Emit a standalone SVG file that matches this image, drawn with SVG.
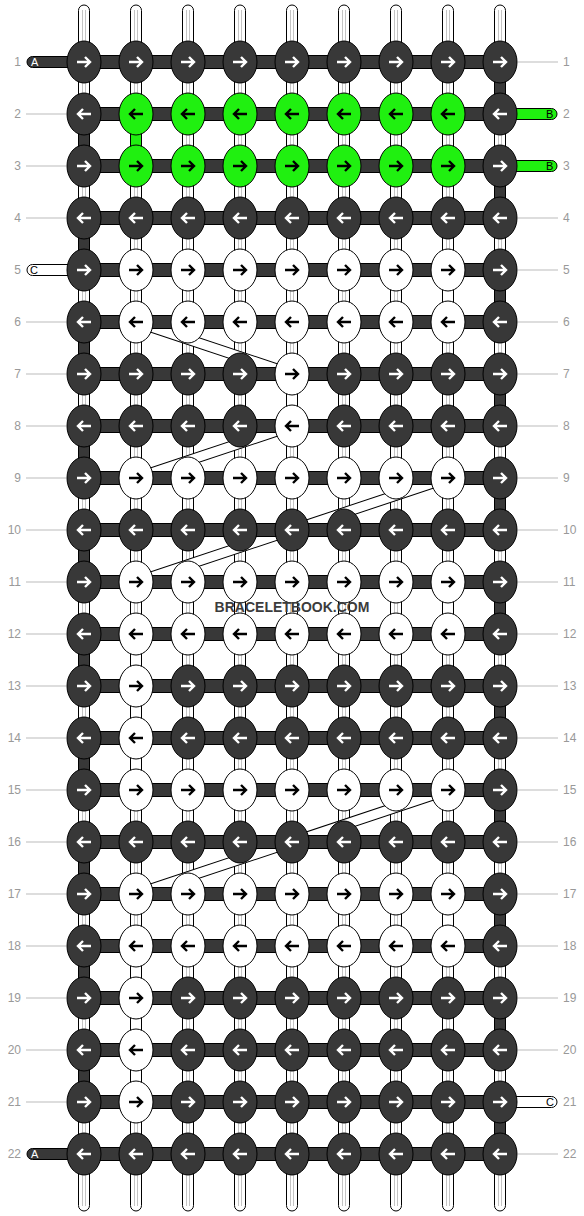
<svg xmlns="http://www.w3.org/2000/svg" xmlns:xlink="http://www.w3.org/1999/xlink" width="584" height="1216" viewBox="0 0 584 1216">
<style>
.st{fill:#fff;stroke:#000;stroke-width:1}
.sl{stroke:#c4c4c4;stroke-width:1}
.fd{fill:#383838;stroke:#000;stroke-width:1}
.fg{fill:#20f010;stroke:#000;stroke-width:1}
.fw{fill:#fff;stroke:#000;stroke-width:1}
.bo{stroke:#000;stroke-width:11}
.bi{stroke:#fff;stroke-width:9}
.kd{fill:#383838;stroke:#000;stroke-width:1}
.kg{fill:#20f010;stroke:#000;stroke-width:1}
.kw{fill:#fff;stroke:#000;stroke-width:1}
.aw{fill:none;stroke:#fff;stroke-width:2.4}
.ab{fill:none;stroke:#000;stroke-width:2.4}
.num{font-family:"Liberation Sans",Arial,sans-serif;font-size:12px;fill:#999}
.nl{stroke:#bbb;stroke-width:1}
.tl{font-family:"Liberation Sans",Arial,sans-serif;font-size:11px}
.wm{font-family:"Liberation Sans",Arial,sans-serif;font-size:14px;font-weight:bold;fill:#3c3c3c}
</style>
<defs>
<g id="dR"><ellipse class="kd" rx="17" ry="21"/><path class="aw" d="M-7,0H6M1,-5L6,0L1,5"/></g>
<g id="dL"><ellipse class="kd" rx="17" ry="21"/><path class="aw" d="M7,0H-6M-1,-5L-6,0L-1,5"/></g>
<g id="gR"><ellipse class="kg" rx="17" ry="21"/><path class="ab" d="M-7,0H6M1,-5L6,0L1,5"/></g>
<g id="gL"><ellipse class="kg" rx="17" ry="21"/><path class="ab" d="M7,0H-6M-1,-5L-6,0L-1,5"/></g>
<g id="wR"><ellipse class="kw" rx="17" ry="21"/><path class="ab" d="M-7,0H6M1,-5L6,0L1,5"/></g>
<g id="wL"><ellipse class="kw" rx="17" ry="21"/><path class="ab" d="M7,0H-6M-1,-5L-6,0L-1,5"/></g>
<g id="strand"><rect class="st" x="-5.5" y="5" width="11" height="1206" rx="5.5"/><path class="sl" d="M-1.5,10V1206M1.5,10V1206"/></g>
</defs>
<rect width="584" height="1216" fill="#fff"/>
<g id="labels">
<path class="nl" d="M26,114H66M26,166H66M26,218H66M26,322H66M26,374H66M26,426H66M26,478H66M26,530H66M26,582H66M26,634H66M26,686H66M26,738H66M26,790H66M26,842H66M26,894H66M26,946H66M26,998H66M26,1050H66M26,1102H66"/>
<path class="nl" d="M518,62H558M518,218H558M518,270H558M518,322H558M518,374H558M518,426H558M518,478H558M518,530H558M518,582H558M518,634H558M518,686H558M518,738H558M518,790H558M518,842H558M518,894H558M518,946H558M518,998H558M518,1050H558M518,1154H558"/>
<g class="num" text-anchor="end">
<text x="21" y="66">1</text><text x="21" y="118">2</text><text x="21" y="170">3</text><text x="21" y="222">4</text><text x="21" y="274">5</text><text x="21" y="326">6</text><text x="21" y="378">7</text><text x="21" y="430">8</text><text x="21" y="482">9</text><text x="21" y="534">10</text><text x="21" y="586">11</text><text x="21" y="638">12</text><text x="21" y="690">13</text><text x="21" y="742">14</text><text x="21" y="794">15</text><text x="21" y="846">16</text><text x="21" y="898">17</text><text x="21" y="950">18</text><text x="21" y="1002">19</text><text x="21" y="1054">20</text><text x="21" y="1106">21</text><text x="21" y="1158">22</text>
</g>
<g class="num">
<text x="563" y="66">1</text><text x="563" y="118">2</text><text x="563" y="170">3</text><text x="563" y="222">4</text><text x="563" y="274">5</text><text x="563" y="326">6</text><text x="563" y="378">7</text><text x="563" y="430">8</text><text x="563" y="482">9</text><text x="563" y="534">10</text><text x="563" y="586">11</text><text x="563" y="638">12</text><text x="563" y="690">13</text><text x="563" y="742">14</text><text x="563" y="794">15</text><text x="563" y="846">16</text><text x="563" y="898">17</text><text x="563" y="950">18</text><text x="563" y="1002">19</text><text x="563" y="1054">20</text><text x="563" y="1106">21</text><text x="563" y="1158">22</text>
</g>
</g>
<g id="connectors">
<use href="#strand" x="84" y="0"/><use href="#strand" x="136" y="0"/><use href="#strand" x="188" y="0"/><use href="#strand" x="240" y="0"/><use href="#strand" x="292" y="0"/><use href="#strand" x="344" y="0"/><use href="#strand" x="396" y="0"/><use href="#strand" x="448" y="0"/><use href="#strand" x="500" y="0"/>
<g class="fd">
<rect x="494.5" y="78" width="11" height="20"/><rect x="494.5" y="182" width="11" height="20"/><rect x="494.5" y="286" width="11" height="20"/><rect x="494.5" y="390" width="11" height="20"/><rect x="494.5" y="494" width="11" height="20"/><rect x="494.5" y="598" width="11" height="20"/><rect x="494.5" y="702" width="11" height="20"/><rect x="494.5" y="806" width="11" height="20"/><rect x="494.5" y="910" width="11" height="20"/><rect x="494.5" y="1014" width="11" height="20"/><rect x="494.5" y="1118" width="11" height="20"/>
<rect x="78.5" y="130" width="11" height="20"/><rect x="78.5" y="234" width="11" height="20"/><rect x="78.5" y="338" width="11" height="20"/><rect x="78.5" y="442" width="11" height="20"/><rect x="78.5" y="546" width="11" height="20"/><rect x="78.5" y="650" width="11" height="20"/><rect x="78.5" y="754" width="11" height="20"/><rect x="78.5" y="858" width="11" height="20"/><rect x="78.5" y="962" width="11" height="20"/><rect x="78.5" y="1066" width="11" height="20"/>
</g>
<rect class="fg" x="130.5" y="130" width="11" height="20"/>
<g class="fw">
<rect x="442.5" y="286" width="11" height="20"/><rect x="286.5" y="390" width="11" height="20"/><rect x="442.5" y="598" width="11" height="20"/><rect x="130.5" y="650" width="11" height="20"/><rect x="130.5" y="702" width="11" height="20"/><rect x="130.5" y="754" width="11" height="20"/><rect x="442.5" y="910" width="11" height="20"/><rect x="130.5" y="962" width="11" height="20"/><rect x="130.5" y="1014" width="11" height="20"/><rect x="130.5" y="1066" width="11" height="20"/>
</g>
<line class="bo" x1="136" y1="322" x2="292" y2="374"/><line class="bi" x1="136" y1="322" x2="292" y2="374"/>
<line class="bo" x1="292" y1="426" x2="136" y2="478"/><line class="bi" x1="292" y1="426" x2="136" y2="478"/>
<line class="bo" x1="448" y1="478" x2="136" y2="582"/><line class="bi" x1="448" y1="478" x2="136" y2="582"/>
<line class="bo" x1="448" y1="790" x2="136" y2="894"/><line class="bi" x1="448" y1="790" x2="136" y2="894"/>
<g class="fd">
<rect x="84" y="55.5" width="416" height="13"/><rect x="84" y="107.5" width="416" height="13"/><rect x="84" y="159.5" width="416" height="13"/><rect x="84" y="211.5" width="416" height="13"/><rect x="84" y="263.5" width="416" height="13"/><rect x="84" y="315.5" width="416" height="13"/><rect x="84" y="367.5" width="416" height="13"/><rect x="84" y="419.5" width="416" height="13"/><rect x="84" y="471.5" width="416" height="13"/><rect x="84" y="523.5" width="416" height="13"/><rect x="84" y="575.5" width="416" height="13"/><rect x="84" y="627.5" width="416" height="13"/><rect x="84" y="679.5" width="416" height="13"/><rect x="84" y="731.5" width="416" height="13"/><rect x="84" y="783.5" width="416" height="13"/><rect x="84" y="835.5" width="416" height="13"/><rect x="84" y="887.5" width="416" height="13"/><rect x="84" y="939.5" width="416" height="13"/><rect x="84" y="991.5" width="416" height="13"/><rect x="84" y="1043.5" width="416" height="13"/><rect x="84" y="1095.5" width="416" height="13"/><rect x="84" y="1147.5" width="416" height="13"/>
</g>
<g id="tails">
<rect class="fd" x="27" y="56.5" width="50" height="11" rx="5.5"/><text class="tl" x="31" y="66" fill="#fff">A</text>
<rect class="fd" x="27" y="1148.5" width="50" height="11" rx="5.5"/><text class="tl" x="31" y="1158" fill="#fff">A</text>
<rect class="fg" x="495" y="108.5" width="62" height="11" rx="5.5"/><text class="tl" x="546" y="118" fill="#000">B</text>
<rect class="fg" x="495" y="160.5" width="62" height="11" rx="5.5"/><text class="tl" x="546" y="170" fill="#000">B</text>
<rect class="fw" x="27" y="264.5" width="50" height="11" rx="5.5"/><text class="tl" x="30" y="274" fill="#000">C</text>
<rect class="fw" x="495" y="1096.5" width="62" height="11" rx="5.5"/><text class="tl" x="546" y="1106" fill="#000">C</text>
</g>
</g>
<g id="knots">
<g id="n1-1"><use href="#dR" x="84" y="62"/></g><g id="n1-2"><use href="#dR" x="136" y="62"/></g><g id="n1-3"><use href="#dR" x="188" y="62"/></g><g id="n1-4"><use href="#dR" x="240" y="62"/></g><g id="n1-5"><use href="#dR" x="292" y="62"/></g><g id="n1-6"><use href="#dR" x="344" y="62"/></g><g id="n1-7"><use href="#dR" x="396" y="62"/></g><g id="n1-8"><use href="#dR" x="448" y="62"/></g><g id="n1-9"><use href="#dR" x="500" y="62"/></g>
<g id="n2-1"><use href="#dL" x="84" y="114"/></g><g id="n2-2"><use href="#gL" x="136" y="114"/></g><g id="n2-3"><use href="#gL" x="188" y="114"/></g><g id="n2-4"><use href="#gL" x="240" y="114"/></g><g id="n2-5"><use href="#gL" x="292" y="114"/></g><g id="n2-6"><use href="#gL" x="344" y="114"/></g><g id="n2-7"><use href="#gL" x="396" y="114"/></g><g id="n2-8"><use href="#gL" x="448" y="114"/></g><g id="n2-9"><use href="#dL" x="500" y="114"/></g>
<g id="n3-1"><use href="#dR" x="84" y="166"/></g><g id="n3-2"><use href="#gR" x="136" y="166"/></g><g id="n3-3"><use href="#gR" x="188" y="166"/></g><g id="n3-4"><use href="#gR" x="240" y="166"/></g><g id="n3-5"><use href="#gR" x="292" y="166"/></g><g id="n3-6"><use href="#gR" x="344" y="166"/></g><g id="n3-7"><use href="#gR" x="396" y="166"/></g><g id="n3-8"><use href="#gR" x="448" y="166"/></g><g id="n3-9"><use href="#dR" x="500" y="166"/></g>
<g id="n4-1"><use href="#dL" x="84" y="218"/></g><g id="n4-2"><use href="#dL" x="136" y="218"/></g><g id="n4-3"><use href="#dL" x="188" y="218"/></g><g id="n4-4"><use href="#dL" x="240" y="218"/></g><g id="n4-5"><use href="#dL" x="292" y="218"/></g><g id="n4-6"><use href="#dL" x="344" y="218"/></g><g id="n4-7"><use href="#dL" x="396" y="218"/></g><g id="n4-8"><use href="#dL" x="448" y="218"/></g><g id="n4-9"><use href="#dL" x="500" y="218"/></g>
<g id="n5-1"><use href="#dR" x="84" y="270"/></g><g id="n5-2"><use href="#wR" x="136" y="270"/></g><g id="n5-3"><use href="#wR" x="188" y="270"/></g><g id="n5-4"><use href="#wR" x="240" y="270"/></g><g id="n5-5"><use href="#wR" x="292" y="270"/></g><g id="n5-6"><use href="#wR" x="344" y="270"/></g><g id="n5-7"><use href="#wR" x="396" y="270"/></g><g id="n5-8"><use href="#wR" x="448" y="270"/></g><g id="n5-9"><use href="#dR" x="500" y="270"/></g>
<g id="n6-1"><use href="#dL" x="84" y="322"/></g><g id="n6-2"><use href="#wL" x="136" y="322"/></g><g id="n6-3"><use href="#wL" x="188" y="322"/></g><g id="n6-4"><use href="#wL" x="240" y="322"/></g><g id="n6-5"><use href="#wL" x="292" y="322"/></g><g id="n6-6"><use href="#wL" x="344" y="322"/></g><g id="n6-7"><use href="#wL" x="396" y="322"/></g><g id="n6-8"><use href="#wL" x="448" y="322"/></g><g id="n6-9"><use href="#dL" x="500" y="322"/></g>
<g id="n7-1"><use href="#dR" x="84" y="374"/></g><g id="n7-2"><use href="#dR" x="136" y="374"/></g><g id="n7-3"><use href="#dR" x="188" y="374"/></g><g id="n7-4"><use href="#dR" x="240" y="374"/></g><g id="n7-5"><use href="#wR" x="292" y="374"/></g><g id="n7-6"><use href="#dR" x="344" y="374"/></g><g id="n7-7"><use href="#dR" x="396" y="374"/></g><g id="n7-8"><use href="#dR" x="448" y="374"/></g><g id="n7-9"><use href="#dR" x="500" y="374"/></g>
<g id="n8-1"><use href="#dL" x="84" y="426"/></g><g id="n8-2"><use href="#dL" x="136" y="426"/></g><g id="n8-3"><use href="#dL" x="188" y="426"/></g><g id="n8-4"><use href="#dL" x="240" y="426"/></g><g id="n8-5"><use href="#wL" x="292" y="426"/></g><g id="n8-6"><use href="#dL" x="344" y="426"/></g><g id="n8-7"><use href="#dL" x="396" y="426"/></g><g id="n8-8"><use href="#dL" x="448" y="426"/></g><g id="n8-9"><use href="#dL" x="500" y="426"/></g>
<g id="n9-1"><use href="#dR" x="84" y="478"/></g><g id="n9-2"><use href="#wR" x="136" y="478"/></g><g id="n9-3"><use href="#wR" x="188" y="478"/></g><g id="n9-4"><use href="#wR" x="240" y="478"/></g><g id="n9-5"><use href="#wR" x="292" y="478"/></g><g id="n9-6"><use href="#wR" x="344" y="478"/></g><g id="n9-7"><use href="#wR" x="396" y="478"/></g><g id="n9-8"><use href="#wR" x="448" y="478"/></g><g id="n9-9"><use href="#dR" x="500" y="478"/></g>
<g id="n10-1"><use href="#dL" x="84" y="530"/></g><g id="n10-2"><use href="#dL" x="136" y="530"/></g><g id="n10-3"><use href="#dL" x="188" y="530"/></g><g id="n10-4"><use href="#dL" x="240" y="530"/></g><g id="n10-5"><use href="#dL" x="292" y="530"/></g><g id="n10-6"><use href="#dL" x="344" y="530"/></g><g id="n10-7"><use href="#dL" x="396" y="530"/></g><g id="n10-8"><use href="#dL" x="448" y="530"/></g><g id="n10-9"><use href="#dL" x="500" y="530"/></g>
<g id="n11-1"><use href="#dR" x="84" y="582"/></g><g id="n11-2"><use href="#wR" x="136" y="582"/></g><g id="n11-3"><use href="#wR" x="188" y="582"/></g><g id="n11-4"><use href="#wR" x="240" y="582"/></g><g id="n11-5"><use href="#wR" x="292" y="582"/></g><g id="n11-6"><use href="#wR" x="344" y="582"/></g><g id="n11-7"><use href="#wR" x="396" y="582"/></g><g id="n11-8"><use href="#wR" x="448" y="582"/></g><g id="n11-9"><use href="#dR" x="500" y="582"/></g>
<g id="n12-1"><use href="#dL" x="84" y="634"/></g><g id="n12-2"><use href="#wL" x="136" y="634"/></g><g id="n12-3"><use href="#wL" x="188" y="634"/></g><g id="n12-4"><use href="#wL" x="240" y="634"/></g><g id="n12-5"><use href="#wL" x="292" y="634"/></g><g id="n12-6"><use href="#wL" x="344" y="634"/></g><g id="n12-7"><use href="#wL" x="396" y="634"/></g><g id="n12-8"><use href="#wL" x="448" y="634"/></g><g id="n12-9"><use href="#dL" x="500" y="634"/></g>
<g id="n13-1"><use href="#dR" x="84" y="686"/></g><g id="n13-2"><use href="#wR" x="136" y="686"/></g><g id="n13-3"><use href="#dR" x="188" y="686"/></g><g id="n13-4"><use href="#dR" x="240" y="686"/></g><g id="n13-5"><use href="#dR" x="292" y="686"/></g><g id="n13-6"><use href="#dR" x="344" y="686"/></g><g id="n13-7"><use href="#dR" x="396" y="686"/></g><g id="n13-8"><use href="#dR" x="448" y="686"/></g><g id="n13-9"><use href="#dR" x="500" y="686"/></g>
<g id="n14-1"><use href="#dL" x="84" y="738"/></g><g id="n14-2"><use href="#wL" x="136" y="738"/></g><g id="n14-3"><use href="#dL" x="188" y="738"/></g><g id="n14-4"><use href="#dL" x="240" y="738"/></g><g id="n14-5"><use href="#dL" x="292" y="738"/></g><g id="n14-6"><use href="#dL" x="344" y="738"/></g><g id="n14-7"><use href="#dL" x="396" y="738"/></g><g id="n14-8"><use href="#dL" x="448" y="738"/></g><g id="n14-9"><use href="#dL" x="500" y="738"/></g>
<g id="n15-1"><use href="#dR" x="84" y="790"/></g><g id="n15-2"><use href="#wR" x="136" y="790"/></g><g id="n15-3"><use href="#wR" x="188" y="790"/></g><g id="n15-4"><use href="#wR" x="240" y="790"/></g><g id="n15-5"><use href="#wR" x="292" y="790"/></g><g id="n15-6"><use href="#wR" x="344" y="790"/></g><g id="n15-7"><use href="#wR" x="396" y="790"/></g><g id="n15-8"><use href="#wR" x="448" y="790"/></g><g id="n15-9"><use href="#dR" x="500" y="790"/></g>
<g id="n16-1"><use href="#dL" x="84" y="842"/></g><g id="n16-2"><use href="#dL" x="136" y="842"/></g><g id="n16-3"><use href="#dL" x="188" y="842"/></g><g id="n16-4"><use href="#dL" x="240" y="842"/></g><g id="n16-5"><use href="#dL" x="292" y="842"/></g><g id="n16-6"><use href="#dL" x="344" y="842"/></g><g id="n16-7"><use href="#dL" x="396" y="842"/></g><g id="n16-8"><use href="#dL" x="448" y="842"/></g><g id="n16-9"><use href="#dL" x="500" y="842"/></g>
<g id="n17-1"><use href="#dR" x="84" y="894"/></g><g id="n17-2"><use href="#wR" x="136" y="894"/></g><g id="n17-3"><use href="#wR" x="188" y="894"/></g><g id="n17-4"><use href="#wR" x="240" y="894"/></g><g id="n17-5"><use href="#wR" x="292" y="894"/></g><g id="n17-6"><use href="#wR" x="344" y="894"/></g><g id="n17-7"><use href="#wR" x="396" y="894"/></g><g id="n17-8"><use href="#wR" x="448" y="894"/></g><g id="n17-9"><use href="#dR" x="500" y="894"/></g>
<g id="n18-1"><use href="#dL" x="84" y="946"/></g><g id="n18-2"><use href="#wL" x="136" y="946"/></g><g id="n18-3"><use href="#wL" x="188" y="946"/></g><g id="n18-4"><use href="#wL" x="240" y="946"/></g><g id="n18-5"><use href="#wL" x="292" y="946"/></g><g id="n18-6"><use href="#wL" x="344" y="946"/></g><g id="n18-7"><use href="#wL" x="396" y="946"/></g><g id="n18-8"><use href="#wL" x="448" y="946"/></g><g id="n18-9"><use href="#dL" x="500" y="946"/></g>
<g id="n19-1"><use href="#dR" x="84" y="998"/></g><g id="n19-2"><use href="#wR" x="136" y="998"/></g><g id="n19-3"><use href="#dR" x="188" y="998"/></g><g id="n19-4"><use href="#dR" x="240" y="998"/></g><g id="n19-5"><use href="#dR" x="292" y="998"/></g><g id="n19-6"><use href="#dR" x="344" y="998"/></g><g id="n19-7"><use href="#dR" x="396" y="998"/></g><g id="n19-8"><use href="#dR" x="448" y="998"/></g><g id="n19-9"><use href="#dR" x="500" y="998"/></g>
<g id="n20-1"><use href="#dL" x="84" y="1050"/></g><g id="n20-2"><use href="#wL" x="136" y="1050"/></g><g id="n20-3"><use href="#dL" x="188" y="1050"/></g><g id="n20-4"><use href="#dL" x="240" y="1050"/></g><g id="n20-5"><use href="#dL" x="292" y="1050"/></g><g id="n20-6"><use href="#dL" x="344" y="1050"/></g><g id="n20-7"><use href="#dL" x="396" y="1050"/></g><g id="n20-8"><use href="#dL" x="448" y="1050"/></g><g id="n20-9"><use href="#dL" x="500" y="1050"/></g>
<g id="n21-1"><use href="#dR" x="84" y="1102"/></g><g id="n21-2"><use href="#wR" x="136" y="1102"/></g><g id="n21-3"><use href="#dR" x="188" y="1102"/></g><g id="n21-4"><use href="#dR" x="240" y="1102"/></g><g id="n21-5"><use href="#dR" x="292" y="1102"/></g><g id="n21-6"><use href="#dR" x="344" y="1102"/></g><g id="n21-7"><use href="#dR" x="396" y="1102"/></g><g id="n21-8"><use href="#dR" x="448" y="1102"/></g><g id="n21-9"><use href="#dR" x="500" y="1102"/></g>
<g id="n22-1"><use href="#dL" x="84" y="1154"/></g><g id="n22-2"><use href="#dL" x="136" y="1154"/></g><g id="n22-3"><use href="#dL" x="188" y="1154"/></g><g id="n22-4"><use href="#dL" x="240" y="1154"/></g><g id="n22-5"><use href="#dL" x="292" y="1154"/></g><g id="n22-6"><use href="#dL" x="344" y="1154"/></g><g id="n22-7"><use href="#dL" x="396" y="1154"/></g><g id="n22-8"><use href="#dL" x="448" y="1154"/></g><g id="n22-9"><use href="#dL" x="500" y="1154"/></g>
</g>
<text class="wm" x="292" y="612" text-anchor="middle">BRACELETBOOK.COM</text>
</svg>
